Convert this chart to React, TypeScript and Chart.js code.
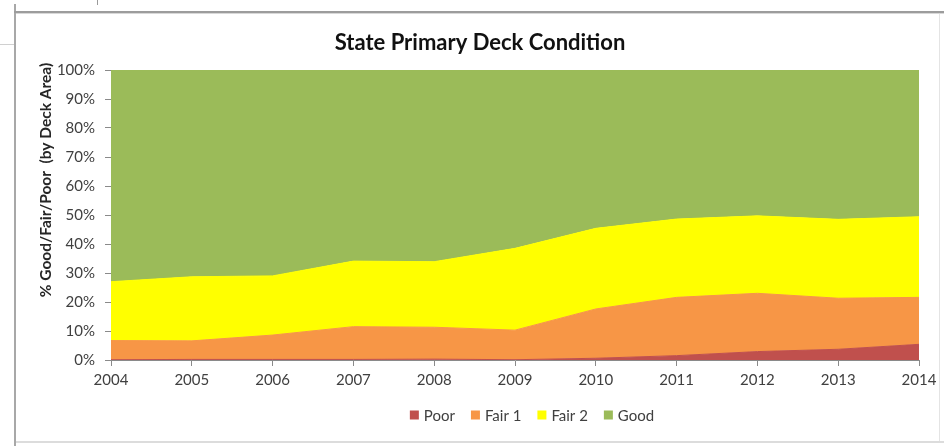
import React, { useEffect, useRef } from "react";
import { Chart, registerables } from "chart.js";

Chart.register(...registerables);

const years = ["2004", "2005", "2006", "2007", "2008", "2009", "2010", "2011", "2012", "2013", "2014"];
const poor = [0.1, 0.2, 0.2, 0.2, 0.3, 0.1, 0.6, 1.5, 2.9, 3.7, 5.4];
const fair1 = [6.6, 6.4, 8.4, 11.3, 11.0, 10.2, 17.0, 20.1, 20.1, 17.6, 16.2];
const fair2 = [20.3, 22.1, 20.4, 22.6, 22.6, 28.2, 27.8, 27.0, 26.7, 27.2, 27.8];
const good = [73.0, 71.3, 71.0, 65.9, 66.1, 61.5, 54.6, 51.4, 50.3, 51.5, 50.6];

const seriesNames = ["Poor", "Fair 1", "Fair 2", "Good"];
const seriesColors = ["#C0504D", "#F79646", "#FFFF00", "#9BBB59"];
const yTitle = "% Good/Fair/Poor  (by Deck Area)";
const chartTitle = "State Primary Deck Condition";

const FONT = "Lato, 'Open Sans', sans-serif";

// Rotated y-axis caption, placed a little above the axis midpoint
const yTitlePlugin = {
  id: "yCaption",
  afterDraw(chart: any) {
    const ctx = chart.ctx;
    ctx.save();
    ctx.translate(46, 180);
    ctx.rotate(-Math.PI / 2);
    ctx.font = `bold 15.5px ${FONT}`;
    ctx.fillStyle = "#262626";
    ctx.textAlign = "center";
    ctx.textBaseline = "middle";
    ctx.fillText(yTitle, 0, 0);
    ctx.restore();
  },
};

// Legend row under the x axis, centred at a fixed x
const legendPlugin = {
  id: "bottomLegend",
  afterDraw(chart: any) {
    const ctx = chart.ctx;
    const box = 9;
    const gap = 5;
    const spacing = 16;
    const cy = 415;
    const cx = 532;
    ctx.save();
    ctx.font = `15px ${FONT}`;
    const items = chart.data.datasets.map((d: any) => ({
      label: d.label,
      color: d.backgroundColor,
      w: ctx.measureText(d.label).width,
    }));
    const total =
      items.reduce((s: number, it: any) => s + box + gap + it.w, 0) + spacing * (items.length - 1);
    let x = cx - total / 2;
    ctx.textBaseline = "middle";
    ctx.textAlign = "left";
    items.forEach((it: any) => {
      ctx.fillStyle = it.color;
      ctx.fillRect(x, cy - box / 2, box, box);
      x += box + gap;
      ctx.fillStyle = "#404040";
      ctx.fillText(it.label, x, cy + 1);
      x += it.w + spacing;
    });
    ctx.restore();
  },
};

export default function App() {
  const canvasRef = useRef<HTMLCanvasElement | null>(null);

  useEffect(() => {
    if (!canvasRef.current) return;
    const values = [poor, fair1, fair2, good];
    const chart = new Chart(canvasRef.current, {
      type: "line",
      data: {
        labels: years,
        datasets: seriesNames.map((name, i) => ({
          label: name,
          data: values[i],
          backgroundColor: seriesColors[i],
          borderColor: seriesColors[i],
          borderWidth: 1,
          pointRadius: 0,
          tension: 0,
          fill: i === 0 ? "origin" : "-1",
        })),
      },
      options: {
        animation: false,
        responsive: false,
        events: [],
        layout: { padding: { left: 41, right: 25, top: 0, bottom: 46 } },
        plugins: {
          legend: { display: false },
          tooltip: { enabled: false },
          title: {
            display: true,
            text: chartTitle,
            color: "#111111",
            font: { family: FONT, size: 22, weight: "bold" },
            padding: { top: 30, bottom: 13.6 },
          },
        },
        scales: {
          x: {
            offset: false,
            afterFit: (s: any) => {
              s.height = 40;
            },
            grid: {
              display: true,
              drawOnChartArea: false,
              drawTicks: true,
              tickLength: 6,
              color: "#8a8a8a",
            },
            border: { display: true, color: "#8a8a8a" },
            ticks: {
              color: "#404040",
              font: { family: FONT, size: 15 },
              padding: 5,
              maxRotation: 0,
            },
          },
          y: {
            stacked: true,
            min: 0,
            max: 100,
            afterFit: (s: any) => {
              s.width = 70;
            },
            grid: {
              display: true,
              drawOnChartArea: false,
              drawTicks: true,
              tickLength: 6,
              color: "#8a8a8a",
            },
            border: { display: true, color: "#8a8a8a" },
            ticks: {
              stepSize: 10,
              color: "#404040",
              font: { family: FONT, size: 15 },
              padding: 10,
              callback: (v: any) => `${v}%`,
            },
          },
        },
      },
      plugins: [yTitlePlugin, legendPlugin],
    });
    return () => chart.destroy();
  }, []);

  return (
    <div
      style={{
        position: "fixed",
        left: 0,
        top: 0,
        width: 944,
        height: 446,
        background: "#ffffff",
        overflow: "hidden",
      }}
    >
      {/* surrounding frame */}
      <div style={{ position: "absolute", left: 97, top: 0, width: 1, height: 5, background: "#9a9a9a" }} />
      <div style={{ position: "absolute", left: 0, top: 44, width: 15, height: 1, background: "#d0d0d0" }} />
      <div style={{ position: "absolute", left: 14, top: 4, width: 2, height: 442, background: "#a8a8a8" }} />
      <div style={{ position: "absolute", left: 14, top: 11, width: 930, height: 2, background: "#9c9c9c" }} />
      <div style={{ position: "absolute", left: 16, top: 13, width: 928, height: 1, background: "#d8d8d8" }} />
      <div style={{ position: "absolute", left: 939, top: 14, width: 1, height: 428, background: "#e4e4e4" }} />
      <div style={{ position: "absolute", left: 16, top: 441, width: 928, height: 2, background: "#dcdcdc" }} />
      <canvas
        ref={canvasRef}
        width={944}
        height={446}
        style={{ position: "absolute", left: 0, top: 0, width: 944, height: 446 }}
      />
    </div>
  );
}
